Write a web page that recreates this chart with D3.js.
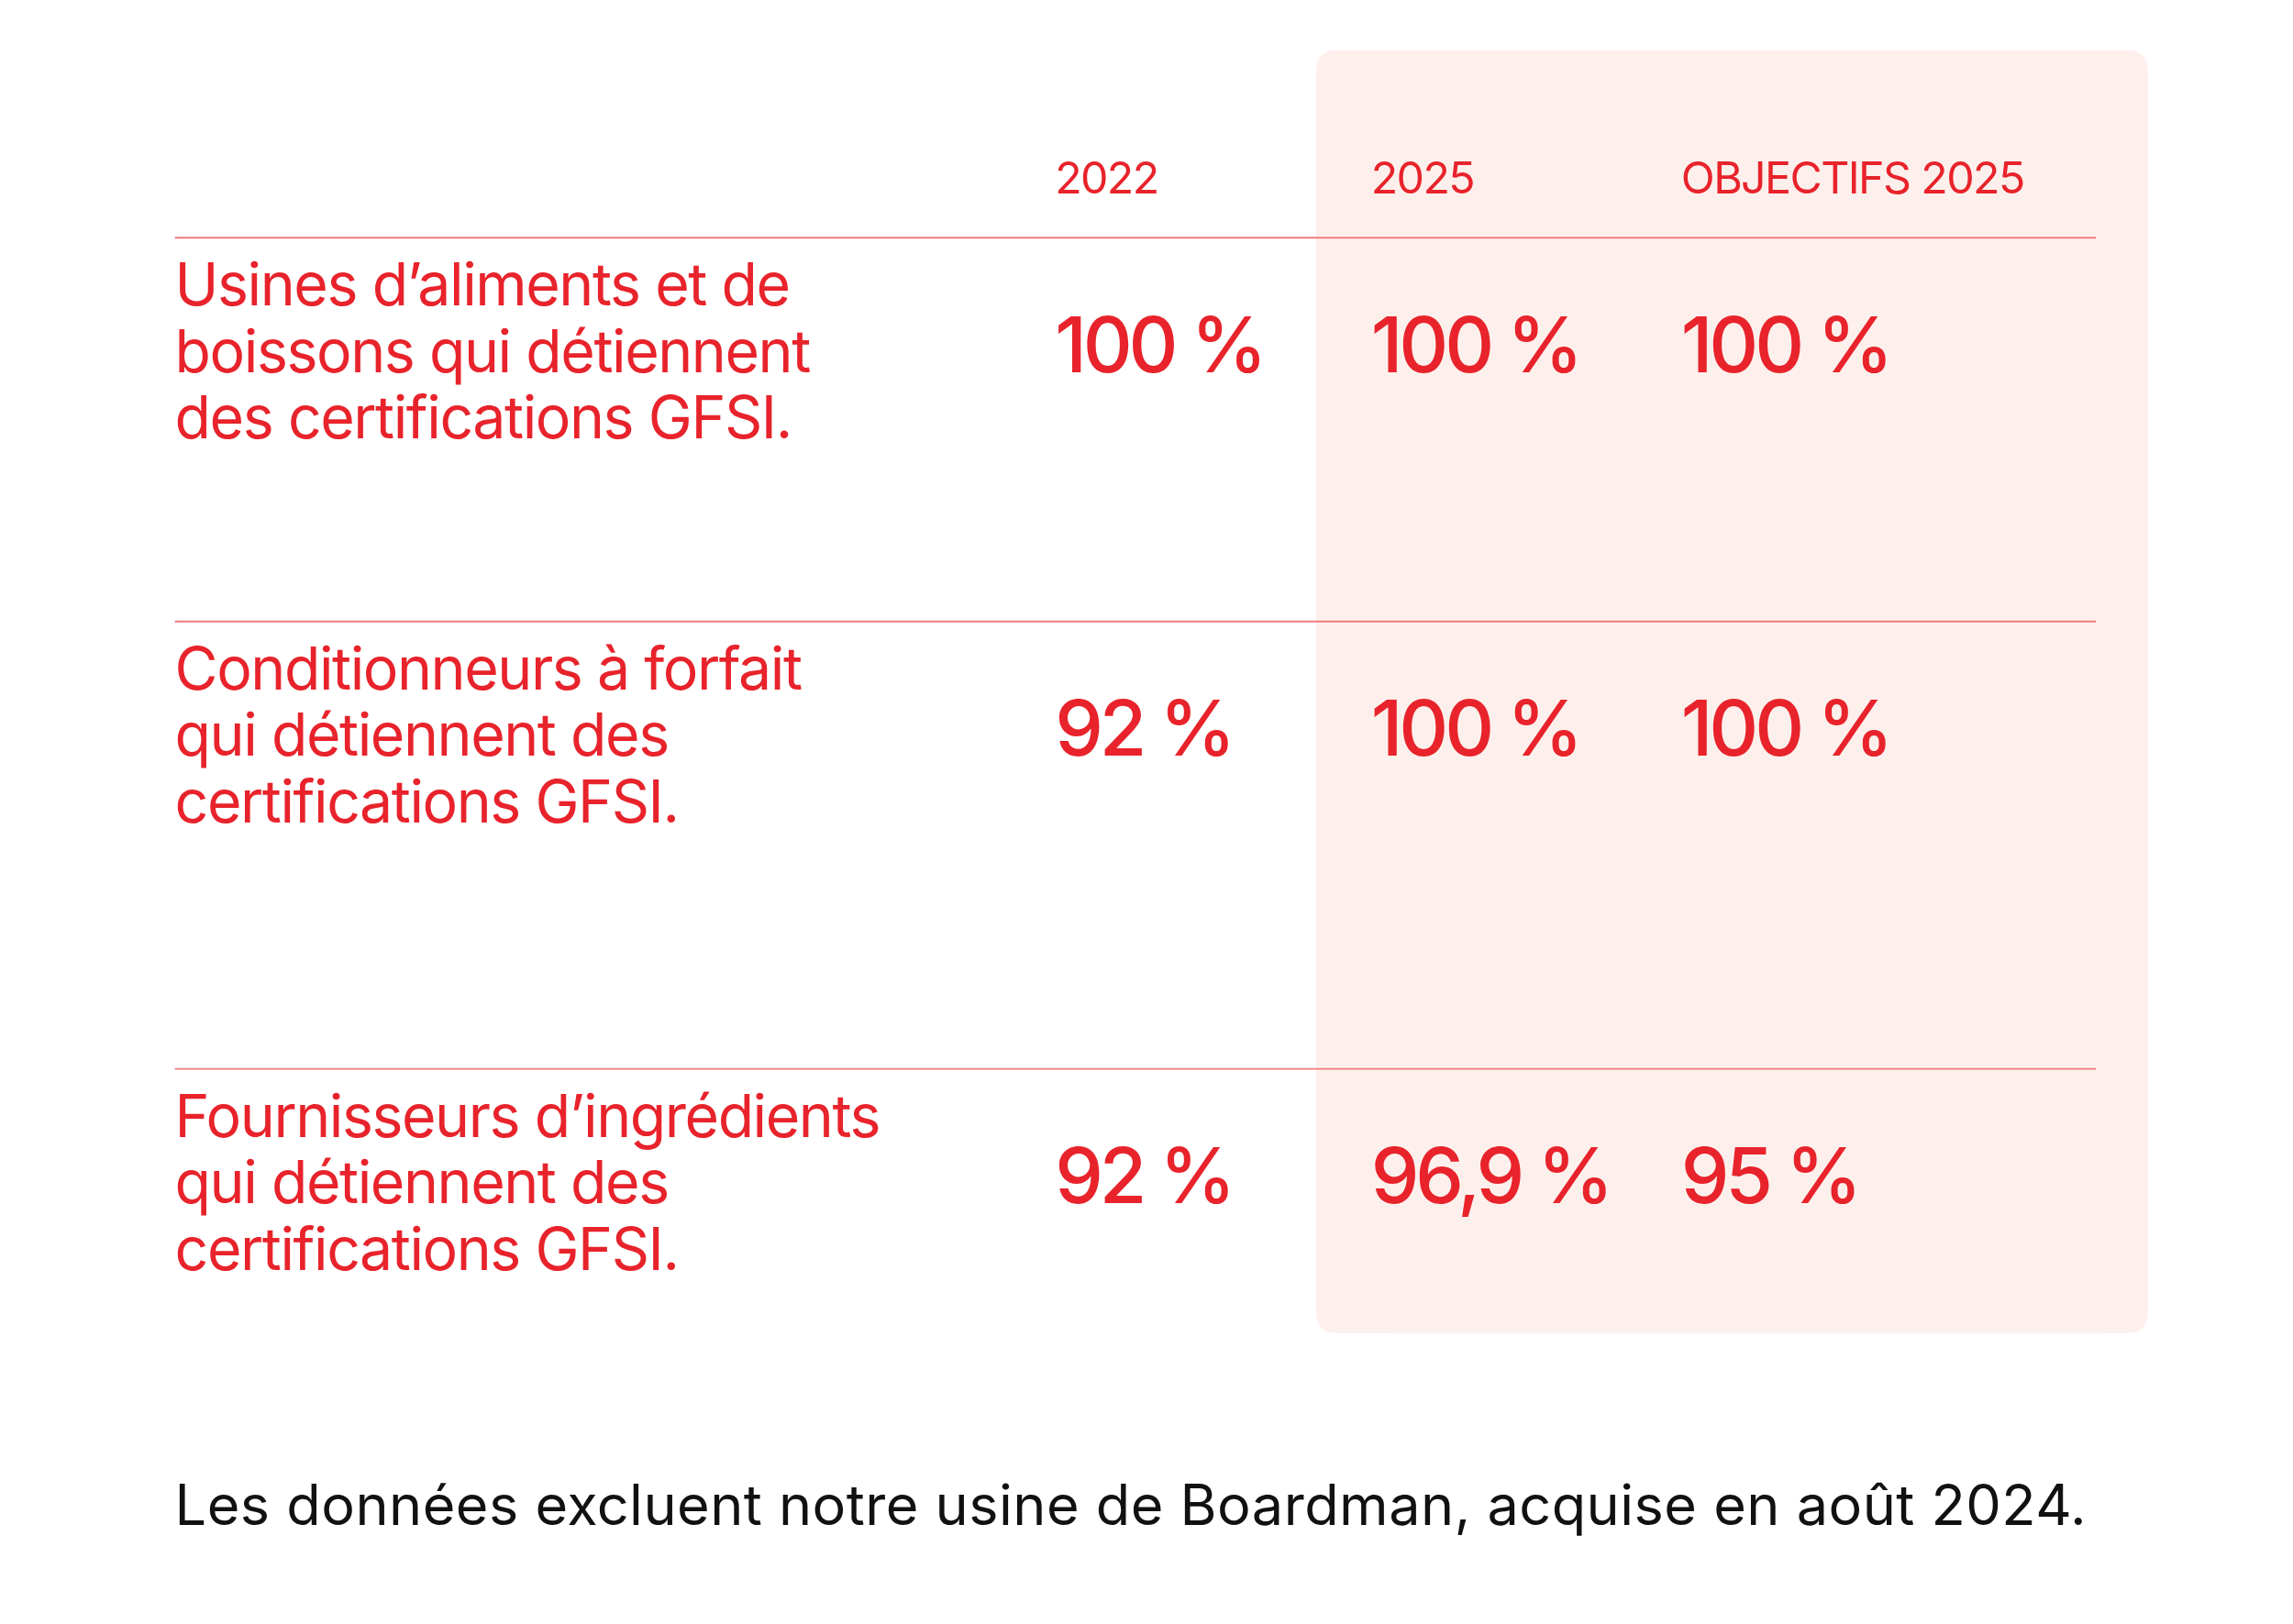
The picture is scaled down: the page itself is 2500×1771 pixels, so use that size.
<!DOCTYPE html>
<html><head><meta charset="utf-8">
<script src="https://cdn.jsdelivr.net/npm/d3@7"></script>
<style>body{margin:0;background:#fff}</style>
</head><body>
<script>
const columns = ["2022", "2025", "OBJECTIFS 2025"];
const rowLabels = [
  ["Usines d\u2019aliments et de", "boissons qui détiennent", "des certifications GFSI."],
  ["Conditionneurs à forfait", "qui détiennent des", "certifications GFSI."],
  ["Fournisseurs d\u2019ingrédients", "qui détiennent des", "certifications GFSI."]
];
const values2022 = ["100 %", "92 %", "92 %"];
const values2025 = ["100 %", "100 %", "96,9 %"];
const target2025 = ["100 %", "100 %", "95 %"];
const note = "Les données excluent notre usine de Boardman, acquise en août 2024.";

const red = "#e8232b";
const svg = d3.select("body").append("svg")
  .attr("width", 2500).attr("height", 1771)
  .attr("viewBox", "0 0 1552 1100");

// shaded panel behind 2025 columns
svg.append("rect").attr("x", 891).attr("y", 34).attr("width", 563).attr("height", 869)
  .attr("rx", 12).attr("fill", "#fdf0ec");

const x = d3.scaleOrdinal().domain(columns).range([714, 928, 1138]);
const rowTop = d3.scaleOrdinal().domain([0, 1, 2]).range([161, 421, 724]);

svg.selectAll(".col").data(columns).join("text")
  .attr("x", d => x(d)).attr("y", 131)
  .attr("fill", red).attr("font-family", "Inter").attr("font-size", 30)
  .attr("letter-spacing", -1).text(d => d);

const rows = rowLabels.map((l, i) => ({label: l, vals: [values2022[i], values2025[i], target2025[i]], i}));

const g = svg.selectAll(".row").data(rows).join("g")
  .attr("transform", d => `translate(0,${rowTop(d.i)})`);

g.append("line").attr("x1", 118).attr("x2", 1419).attr("y1", 0).attr("y2", 0)
  .attr("stroke", "#ef7a7e").attr("stroke-width", 1.2);

g.append("text").attr("fill", red).attr("font-family", "Inter").attr("font-size", 40)
  .attr("letter-spacing", -0.9)
  .selectAll("tspan").data(d => d.label).join("tspan")
  .attr("x", 118).attr("y", (d, k) => 46 + k * 45).text(d => d);

g.selectAll(".v").data(d => d.vals.map((v, k) => ({v, c: columns[k]}))).join("text")
  .attr("x", d => x(d.c)).attr("y", 91)
  .attr("fill", red).attr("font-family", "Inter").attr("font-size", 52).attr("font-weight", 500)
  .attr("letter-spacing", -2.6).text(d => d.v);

svg.append("text").attr("x", 118).attr("y", 1033)
  .attr("font-family", "Inter").attr("font-size", 38).attr("fill", "#111")
  .attr("letter-spacing", 0.3).text(note);
</script>
</body></html>
